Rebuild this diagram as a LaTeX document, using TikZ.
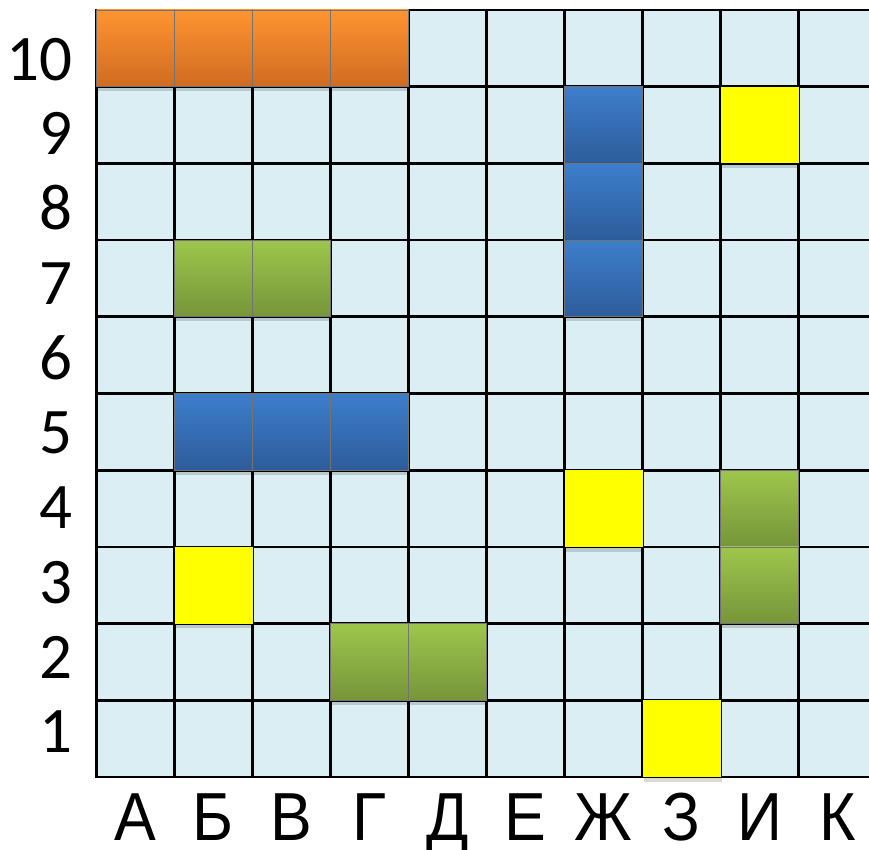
\documentclass[tikz,border=0pt]{standalone}
\usepackage{fontspec}
\setmainfont{Liberation Sans}
\newfontfamily\numfont{Carlito}
\definecolor{water}{HTML}{DAEEF3}
\definecolor{orangetop}{HTML}{FF9430}
\definecolor{orangebot}{HTML}{CF6B22}
\definecolor{bluetop}{HTML}{3D7ECC}
\definecolor{bluebot}{HTML}{2D5C9A}
\definecolor{greentop}{HTML}{9EC64B}
\definecolor{greenbot}{HTML}{76953A}
\definecolor{hit}{HTML}{FFFF00}
\tikzset{
  gridline/.style={line width=2.6pt,line cap=rect},
  cellshadow/.style={fill=black,opacity=0.15},
  shipcell/.style={draw=black!55,line width=0.6pt},
  orangeship/.style={shipcell,top color=orangetop,bottom color=orangebot},
  blueship/.style={shipcell,top color=bluetop,bottom color=bluebot},
  greenship/.style={shipcell,top color=greentop,bottom color=greenbot},
  hitcell/.style={fill=hit},
  numlab/.style={anchor=base east,inner sep=0pt,font=\numfont\fontsize{65}{65}\selectfont},
  collab/.style={anchor=base,inner sep=0pt,font=\fontsize{68}{68}\selectfont}
}
\begin{document}
\begin{tikzpicture}[x=78pt,y=76.7pt]
\useasboundingbox (-1.2372,-0.9387) rectangle (9.9038,10.1304);
\clip (-1.2372,-0.9387) rectangle (9.9038,10.1304);
% sea
\fill[water] (0,0) rectangle (10,10);
\foreach \i in {0,...,10} {
  \draw[gridline] (\i,0) -- (\i,10);
  \draw[gridline] (0,\i) -- (10,\i);
}
% ships
\foreach \c/\r in {0/9,1/9,2/9,3/9} {
  \fill[cellshadow] (\c+0.02,\r-0.06) rectangle (\c+1.02,\r+0.9);
  \draw[orangeship] (\c,\r) rectangle (\c+1,\r+1);
}
\foreach \c/\r in {6/8,6/7,6/6,1/4,2/4,3/4} {
  \fill[cellshadow] (\c+0.02,\r-0.06) rectangle (\c+1.02,\r+0.9);
  \draw[blueship] (\c,\r) rectangle (\c+1,\r+1);
}
\foreach \c/\r in {1/6,2/6,8/3,8/2,3/1,4/1} {
  \fill[cellshadow] (\c+0.02,\r-0.06) rectangle (\c+1.02,\r+0.9);
  \draw[greenship] (\c,\r) rectangle (\c+1,\r+1);
}
% shots
\foreach \c/\r in {8/8,6/3,1/2,7/0} {
  \fill[cellshadow] (\c+0.02,\r-0.06) rectangle (\c+1.02,\r+0.9);
  \fill[hitcell] (\c,\r) rectangle (\c+1,\r+1);
}
% labels
\foreach \n [evaluate=\n as \yb using 0.313+(\n-1)*0.9749] in {1,...,10}
  \node[numlab] (row\n) at (-0.301,\yb) {\n};
\foreach \l [count=\i from 0] in {А,Б,В,Г,Д,Е,Ж,З,И,К}
  \node[collab] (col\i) at (\i+0.5,-0.834) {\scalebox{0.92}[1]{\l}};
\end{tikzpicture}
\end{document}
